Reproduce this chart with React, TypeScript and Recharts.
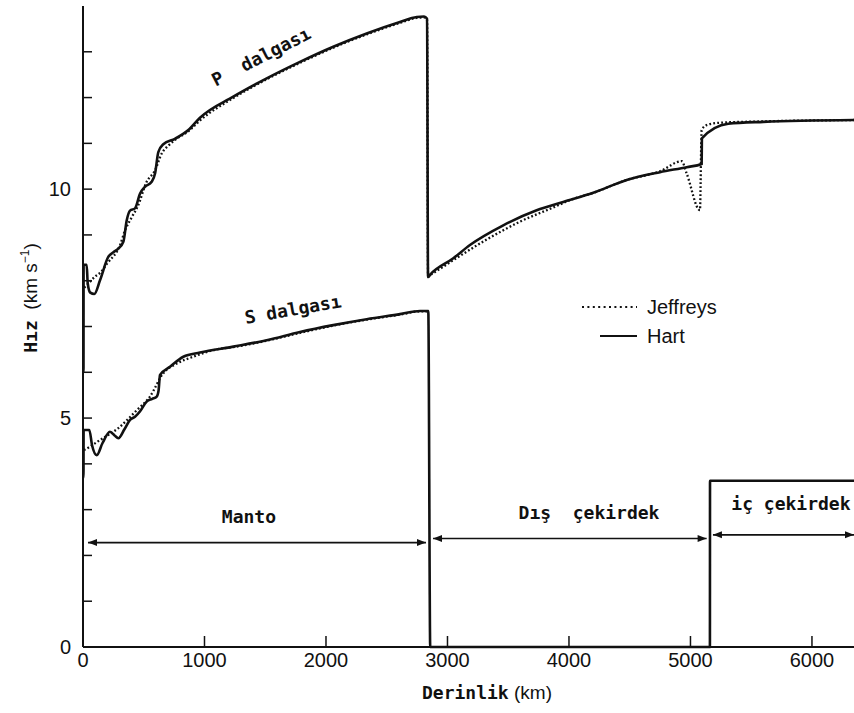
import { LineChart, Line, XAxis, YAxis, ReferenceLine, ReferenceDot, Legend } from 'recharts'

// depth (km) , velocity (km/s)
const hartP: [number, number][] = [
  [0, 6.0], [4, 6.0], [5, 8.35], [30, 8.35], [39, 7.94], [60, 7.74], [93, 7.71], [140, 8.01],
  [208, 8.52], [250, 8.62], [290, 8.7], [332, 8.85], [360, 9.32], [387, 9.53], [428, 9.58],
  [469, 9.9], [510, 10.05], [565, 10.16], [593, 10.34], [620, 10.81], [661, 10.98], [757, 11.1],
  [867, 11.29], [963, 11.56], [1237, 12.02], [1512, 12.42], [1786, 12.78], [2060, 13.11],
  [2335, 13.4], [2609, 13.65], [2747, 13.76], [2807, 13.77], [2832, 13.72], [2840, 8.08],
  [2860, 8.14], [3048, 8.49], [3185, 8.78], [3459, 9.21], [3734, 9.54], [3953, 9.72], [4200, 9.92],
  [4475, 10.2], [4749, 10.37], [4969, 10.48], [5092, 10.55], [5094, 11.11], [5311, 11.43],
  [5600, 11.47], [6346, 11.51],
]

const jeffreysP: [number, number][] = [
  [10, 7.85], [44, 7.94], [99, 8.09], [140, 8.17], [200, 8.38], [305, 8.78], [346, 9.1],
  [400, 9.38], [450, 9.62], [524, 10.16], [593, 10.41], [648, 10.78], [702, 10.95], [760, 11.08],
  [870, 11.27], [963, 11.5], [1237, 11.99], [1512, 12.4], [1786, 12.76], [2060, 13.09],
  [2335, 13.38], [2609, 13.63], [2747, 13.74], [2807, 13.75], [2832, 13.7], [2840, 8.1],
  [2860, 8.13], [3048, 8.45], [3323, 8.9], [3597, 9.29], [3871, 9.6], [4008, 9.76], [4200, 9.92],
  [4475, 10.2], [4749, 10.39], [4928, 10.61], [4969, 10.34], [5078, 9.54], [5092, 11.29],
  [5133, 11.4], [5243, 11.45], [5600, 11.48], [6346, 11.51],
]

const hartS: [number, number][] = [
  [0, 3.7], [4, 3.7], [5, 4.74], [52, 4.74], [75, 4.4], [113, 4.19], [160, 4.45], [222, 4.7],
  [260, 4.62], [291, 4.56], [340, 4.75], [387, 4.96], [428, 5.03], [470, 5.15], [524, 5.36],
  [570, 5.42], [607, 5.47], [622, 5.6], [634, 5.94], [716, 6.12], [826, 6.34], [963, 6.43],
  [1237, 6.56], [1512, 6.7], [1786, 6.88], [2060, 7.03], [2335, 7.16], [2609, 7.27],
  [2774, 7.34], [2842, 7.34], [2858, 0], [5160, 0], [5161, 3.63], [6346, 3.63],
]

const jeffreysS: [number, number][] = [
  [8, 4.3], [60, 4.38], [140, 4.52], [220, 4.65], [291, 4.78], [360, 4.95], [442, 5.17],
  [551, 5.47], [661, 5.98], [771, 6.19], [908, 6.34], [1100, 6.5], [1237, 6.55], [1512, 6.69],
  [1786, 6.86], [2060, 7.02], [2335, 7.15], [2609, 7.26], [2774, 7.33], [2842, 7.33],
]

const depthTicks = [0, 1000, 2000, 3000, 4000, 5000, 6000]
const speedTicks = [0, 1, 2, 3, 4, 5, 6, 7, 8, 9, 10, 11, 12, 13, 14]

// Manto / Dış çekirdek / iç çekirdek
const regionNames = ['Manto', 'Dış  çekirdek', 'iç çekirdek']
const regionStart = [41, 2881, 5185]
const regionEnd = [2823, 5133, 6346]
const regionArrowV = [2.28, 2.37, 2.45]
const regionLabelD = [1366, 4165, 5827]
const regionLabelV = [2.86, 2.93, 3.14]

const INK = '#111'
const MONO = '"DejaVu Sans Mono", monospace'
const SANS = '"Liberation Sans", Arial, sans-serif'

const toPts = (rows: [number, number][]) => rows.map(([d, v]) => ({ d, v }))

function DepthTick(props: any) {
  const { x, y, payload } = props
  return (
    <g>
      {payload.value > 0 && <line x1={x} y1={y} x2={x} y2={y - 11} stroke={INK} strokeWidth={1.5} />}
      <text x={x} y={y + 20} textAnchor="middle" fontFamily={SANS} fontSize={20} fill={INK}>
        {payload.value}
      </text>
    </g>
  )
}

function SpeedTick(props: any) {
  const { x, y, payload } = props
  const v = payload.value
  return (
    <g>
      {v > 0 && v < 14 && <line x1={x} y1={y} x2={x + 9} y2={y} stroke={INK} strokeWidth={1.5} />}
      {v % 5 === 0 && (
        <text x={x - 12} y={y + 7} textAnchor="end" fontFamily={SANS} fontSize={20} fill={INK}>
          {v}
        </text>
      )}
    </g>
  )
}

function ArrowShape(p: any) {
  const { x1, y1, x2, y2 } = p
  const h = 9
  const w = 3.5
  return (
    <g>
      <line x1={x1} y1={y1} x2={x2} y2={y2} stroke={INK} strokeWidth={1.6} />
      <polygon points={`${x1},${y1} ${x1 + h},${y1 - w} ${x1 + h},${y1 + w}`} fill={INK} />
      <polygon points={`${x2},${y2} ${x2 - h},${y2 - w} ${x2 - h},${y2 + w}`} fill={INK} />
    </g>
  )
}

const monoText = (txt: string, angle = 0) => (p: any) => (
  <text
    x={p.cx}
    y={p.cy}
    transform={angle ? `rotate(${angle}, ${p.cx}, ${p.cy})` : undefined}
    textAnchor="middle"
    dominantBaseline="central"
    fontFamily={MONO}
    fontWeight="bold"
    fontSize={18}
    fill={INK}
    style={{ whiteSpace: 'pre' }}
  >
    {txt}
  </text>
)

function XTitle(p: any) {
  const vb = p.viewBox
  return (
    <text x={vb.x + 339} y={vb.y + 52} fill={INK}>
      <tspan fontFamily={MONO} fontWeight="bold" fontSize={18}>Derinlik</tspan>
      <tspan fontFamily={SANS} fontSize={19}> (km)</tspan>
    </text>
  )
}

function YTitle(p: any) {
  const vb = p.viewBox
  const cx = vb.x + 37
  const cy = 298
  return (
    <text x={cx} y={cy} transform={`rotate(-90, ${cx}, ${cy})`} textAnchor="middle" fill={INK} style={{ whiteSpace: 'pre' }}>
      <tspan fontFamily={MONO} fontWeight="bold" fontSize={18}>Hız</tspan>
      <tspan fontFamily={SANS} fontSize={19}>{'  (km s'}</tspan>
      <tspan fontFamily={SANS} fontSize={12} dy={-8}>−1</tspan>
      <tspan fontFamily={SANS} fontSize={19} dy={8}>)</tspan>
    </text>
  )
}

function LegendBox() {
  return (
    <svg width={200} height={70}>
      <line x1={7} y1={17} x2={62} y2={17} stroke={INK} strokeWidth={2} strokeDasharray="2 3.4" />
      <text x={72} y={24} fontFamily={SANS} fontSize={20} fill={INK}>Jeffreys</text>
      <line x1={25} y1={46} x2={62} y2={46} stroke={INK} strokeWidth={2.2} />
      <text x={72} y={53} fontFamily={SANS} fontSize={20} fill={INK}>Hart</text>
    </svg>
  )
}

export default function App() {
  return (
    <div style={{ position: 'absolute', left: 0, top: 0, background: '#fff' }}>
      <LineChart width={854} height={713} margin={{ top: 6, right: 0, bottom: 36, left: 0 }}>
        <XAxis
          type="number"
          dataKey="d"
          domain={[0, 6346]}
          ticks={depthTicks}
          interval={0}
          allowDataOverflow
          height={30}
          tickSize={0}
          tickMargin={0}
          tickLine={false}
          axisLine={{ stroke: INK, strokeWidth: 2 }}
          tick={DepthTick}
          label={{ content: XTitle }}
        />
        <YAxis
          type="number"
          dataKey="v"
          domain={[0, 14]}
          ticks={speedTicks}
          interval={0}
          width={83}
          tickSize={0}
          tickMargin={0}
          tickLine={false}
          axisLine={{ stroke: INK, strokeWidth: 2 }}
          tick={SpeedTick}
          label={{ content: YTitle }}
        />
        <Legend
          verticalAlign="middle"
          align="center"
          layout="horizontal"
          wrapperStyle={{ left: 575, top: 290, width: 200, height: 70 }}
          content={() => <LegendBox />}
        />
        {regionNames.map((name, i) => (
          <ReferenceLine
            key={`arr-${name}`}
            segment={[
              { x: regionStart[i], y: regionArrowV[i] },
              { x: regionEnd[i], y: regionArrowV[i] },
            ]}
            ifOverflow="visible"
            shape={ArrowShape}
          />
        ))}
        {regionNames.map((name, i) => (
          <ReferenceDot
            key={`lab-${name}`}
            x={regionLabelD[i]}
            y={regionLabelV[i]}
            r={0}
            ifOverflow="visible"
            shape={monoText(name)}
          />
        ))}
        <ReferenceDot x={1465} y={12.9} r={0} ifOverflow="visible" shape={monoText('P  dalgası', -27)} />
        <ReferenceDot x={1728} y={7.38} r={0} ifOverflow="visible" shape={monoText('S dalgası', -10)} />
        <Line
          data={toPts(jeffreysP)}
          dataKey="v"
          name="Jeffreys"
          type="monotoneX"
          stroke={INK}
          strokeWidth={2.3}
          strokeDasharray="1.8 2.2"
          dot={false}
          isAnimationActive={false}
        />
        <Line
          data={toPts(jeffreysS)}
          dataKey="v"
          name="Jeffreys S"
          type="monotoneX"
          stroke={INK}
          strokeWidth={2.3}
          strokeDasharray="1.8 2.2"
          dot={false}
          isAnimationActive={false}
        />
        <Line
          data={toPts(hartP)}
          dataKey="v"
          name="Hart"
          type="monotoneX"
          stroke={INK}
          strokeWidth={2.6}
          dot={false}
          isAnimationActive={false}
        />
        <Line
          data={toPts(hartS)}
          dataKey="v"
          name="Hart S"
          type="monotoneX"
          stroke={INK}
          strokeWidth={2.6}
          dot={false}
          isAnimationActive={false}
        />
      </LineChart>
    </div>
  )
}
